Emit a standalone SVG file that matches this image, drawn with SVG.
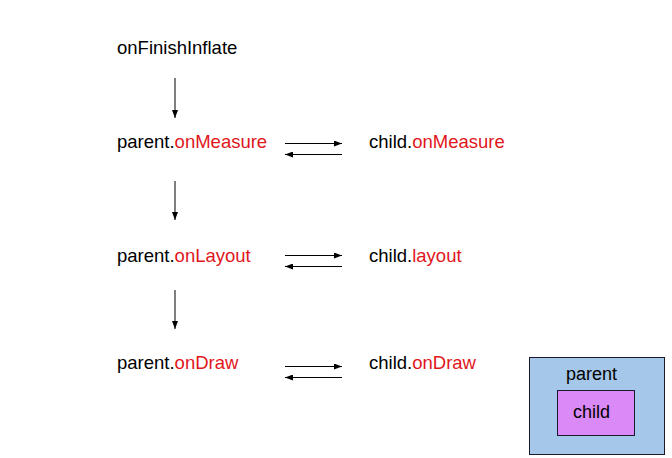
<svg xmlns="http://www.w3.org/2000/svg" width="672" height="458" viewBox="0 0 672 458">
<style>
text{font-family:"Liberation Sans",Arial,sans-serif;font-size:18.5px;fill:#000}
.r{fill:#e0161b}
.c line{stroke:#000;stroke-width:1}
</style>
<defs>
<marker id="a" viewBox="0 0 8 6" refX="8" refY="3" markerWidth="8" markerHeight="6" markerUnits="userSpaceOnUse" orient="auto"><path d="M0,0L8,3L0,6z" fill="#000"/></marker>
</defs>
<rect width="672" height="458" fill="#fff"/>
<g id="onFinishInflate"><text x="117" y="54">onFinishInflate</text></g>
<g id="parentMeasure"><text x="117" y="148">parent.<tspan class="r">onMeasure</tspan></text></g>
<g id="childMeasure"><text x="369" y="148">child.<tspan class="r">onMeasure</tspan></text></g>
<g id="parentLayout"><text x="117" y="262">parent.<tspan class="r">onLayout</tspan></text></g>
<g id="childLayout"><text x="369" y="262">child.<tspan class="r">layout</tspan></text></g>
<g id="parentDraw"><text x="117" y="369">parent.<tspan class="r">onDraw</tspan></text></g>
<g id="childDraw"><text x="369" y="369">child.<tspan class="r">onDraw</tspan></text></g>
<g class="c" id="connectors">
<line x1="175" y1="78" x2="175" y2="118" marker-end="url(#a)"/>
<line x1="175" y1="181" x2="175" y2="220" marker-end="url(#a)"/>
<line x1="175" y1="290" x2="175" y2="329" marker-end="url(#a)"/>
<line x1="285" y1="143.5" x2="342" y2="143.5" marker-end="url(#a)"/>
<line x1="342" y1="154.5" x2="285" y2="154.5" marker-end="url(#a)"/>
<line x1="285" y1="255.5" x2="342" y2="255.5" marker-end="url(#a)"/>
<line x1="342" y1="266.5" x2="285" y2="266.5" marker-end="url(#a)"/>
<line x1="285" y1="366.5" x2="342" y2="366.5" marker-end="url(#a)"/>
<line x1="342" y1="377.5" x2="285" y2="377.5" marker-end="url(#a)"/>
</g>
<g id="legend">
<rect x="529.5" y="357.5" width="135" height="97" fill="#a5c8ea" stroke="#1a1a2a" stroke-width="1"/>
<text x="566" y="380" style="font-size:18px">parent</text>
<rect x="557.5" y="390.5" width="77" height="45" fill="#d98af6" stroke="#1a1a2a" stroke-width="1"/>
<text x="573" y="418" style="font-size:18px">child</text>
</g>
</svg>
